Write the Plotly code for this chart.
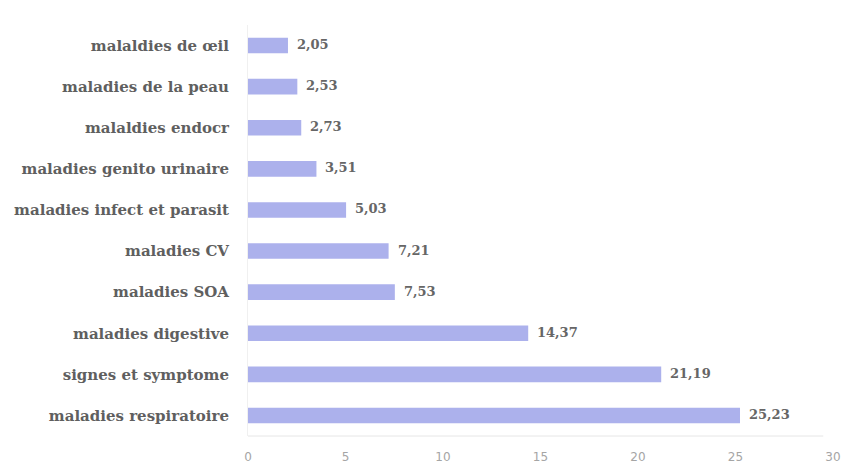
import plotly.graph_objects as go

# Disease categories (bottom to top as drawn) and their percentages
categories = [
    "maladies respiratoire",
    "signes et symptome",
    "maladies digestive",
    "maladies SOA",
    "maladies CV",
    "maladies infect et parasit",
    "maladies genito urinaire",
    "malaldies endocr",
    "maladies de la peau",
    "malaldies de œil",
]
values = [25.23, 21.19, 14.37, 7.53, 7.21, 5.03, 3.51, 2.73, 2.53, 2.05]
x_ticks = [0, 5, 10, 15, 20, 25, 30]

labels = [f"{v:.2f}".replace(".", ",") for v in values]

fig = go.Figure(
    go.Bar(
        x=values,
        y=categories,
        orientation="h",
        marker=dict(color="#acb1ec", line=dict(width=0)),
        width=0.38,
        hoverinfo="skip",
    )
)

# Value labels just to the right of each bar
for cat, v, lab in zip(categories, values, labels):
    fig.add_annotation(
        x=v, y=cat, text=lab, showarrow=False,
        xanchor="left", xshift=7, yshift=1,
        font=dict(family="DejaVu Serif", size=13, color="#666666", weight="bold"),
    )

fig.update_layout(
    width=843, height=471,
    margin=dict(l=248, r=10, t=25, b=35),
    paper_bgcolor="white", plot_bgcolor="white",
    showlegend=False,
)
fig.update_xaxes(
    range=[0, 30], tickvals=x_ticks, ticktext=[str(t) for t in x_ticks],
    showgrid=False, zeroline=False,
    showline=False, automargin=False,
    ticks="outside", ticklen=10, tickcolor="rgba(0,0,0,0)",
    tickfont=dict(family="DejaVu Sans", size=12, color="#a5a5a5"),
)
fig.update_yaxes(
    categoryorder="array", categoryarray=categories,
    showgrid=False, zeroline=False, automargin=False,
    showline=True, linecolor="#f0f0f0", linewidth=1,
    ticks="outside", ticklen=15, tickcolor="rgba(0,0,0,0)",
    tickfont=dict(family="DejaVu Serif", size=15, color="#5f5f5f", weight="bold"),
)
# Faint baseline under the bars
fig.add_shape(type="line", xref="x", yref="paper", x0=0, x1=29.5, y0=0, y1=0,
              line=dict(color="#e6e6e6", width=1))

fig.write_html("out.html")
